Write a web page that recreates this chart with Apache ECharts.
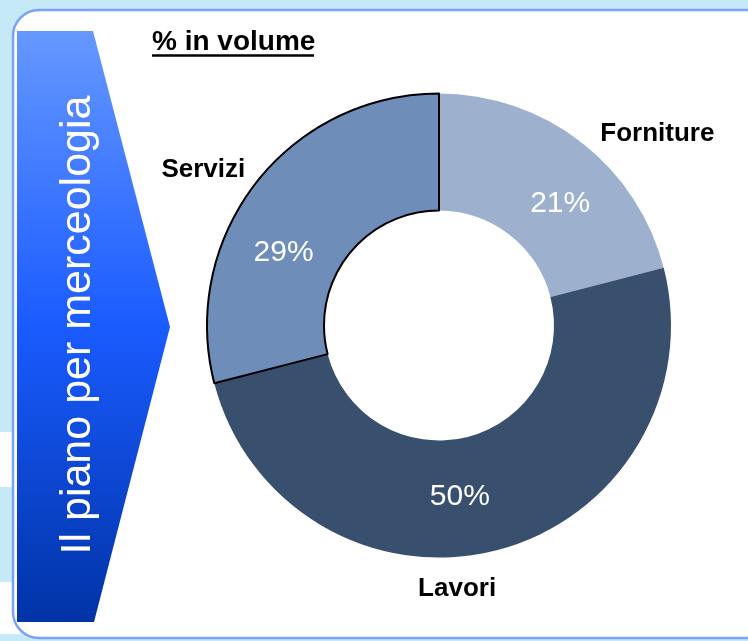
<!DOCTYPE html>
<html>
<head>
<meta charset="utf-8">
<title>Il piano per merceologia</title>
<script src="https://cdn.jsdelivr.net/npm/echarts@6/dist/echarts.min.js"></script>
<style>
  html, body { margin: 0; padding: 0; background: #c6e9f7; }
  #chart { width: 748px; height: 641px; }
</style>
</head>
<body>
<div id="chart"></div>
<script>
// categories and shares (% in volume), clockwise from 12 o'clock
const categories = ['Forniture', 'Lavori', 'Servizi'];
const shares = [21, 50, 29];
const sliceColors = ['#9db1cf', '#384f6e', '#6e8db9'];

const chartTitle = '% in volume';
const sideTitle = 'Il piano per merceologia';

const chart = echarts.init(document.getElementById('chart'));

// small nudges so labels sit where the original slide put them
const pctNudge = [[13, 18], [-23, 0], [-16, 35]];
const nameNudge = [[48, 28], [-51, -6], [-16, 15]];

const FONT = '"Liberation Sans", Arial, sans-serif';

const option = {
  backgroundColor: '#c6e9f7',
  animation: false,
  graphic: [
    // white strips left of the panel
    { type: 'rect', z: -20, shape: { x: 0, y: 432, width: 20, height: 55 }, style: { fill: '#ffffff' } },
    { type: 'rect', z: -20, shape: { x: 0, y: 582, width: 20, height: 52 }, style: { fill: '#ffffff' } },
    // panel
    {
      type: 'rect', z: -10,
      shape: { x: 13, y: 10, width: 770, height: 628, r: 26 },
      style: { fill: '#ffffff', stroke: '#78a3f6', lineWidth: 2.5 }
    },
    // chevron on the left
    {
      type: 'polygon', z: -5,
      shape: { points: [[17, 31], [93, 31], [170, 327], [94, 622], [17, 622]] },
      style: {
        fill: new echarts.graphic.LinearGradient(0, 0, 0, 1, [
          { offset: 0, color: '#6698ff' },
          { offset: 0.5, color: '#1a5bff' },
          { offset: 1, color: '#0033a6' }
        ])
      }
    },
    {
      type: 'text', z: 5,
      x: 78, y: 325, rotation: Math.PI / 2,
      style: {
        text: sideTitle,
        fill: '#ffffff',
        font: '43px ' + FONT,
        align: 'center',
        verticalAlign: 'middle'
      }
    },
    // title with underline
    {
      type: 'text', z: 5,
      x: 152, y: 42,
      style: {
        text: chartTitle,
        fill: '#000000',
        font: 'bold 28px ' + FONT,
        align: 'left',
        verticalAlign: 'middle'
      }
    },
    {
      type: 'line', z: 5,
      shape: { x1: 152, y1: 55.5, x2: 314, y2: 55.5 },
      style: { stroke: '#000000', lineWidth: 2.5 }
    }
  ],
  series: [
    {
      type: 'pie',
      center: [439, 325.5],
      radius: [115, 232],
      startAngle: 90,
      clockwise: true,
      avoidLabelOverlap: false,
      silent: true,
      label: {
        show: true,
        position: 'inside',
        formatter: '{c}%',
        color: '#ffffff',
        fontSize: 30,
        fontFamily: FONT
      },
      labelLine: { show: false },
      labelLayout: function (p) {
        const n = pctNudge[p.dataIndex];
        return { dx: n[0], dy: n[1] };
      },
      data: categories.map(function (name, i) {
        return {
          name: name,
          value: shares[i],
          itemStyle: name === 'Servizi'
            ? { color: sliceColors[i], borderColor: '#000000', borderWidth: 2 }
            : { color: sliceColors[i], borderWidth: 0 }
        };
      })
    },
    {
      // invisible ring carrying the category names
      type: 'pie',
      center: [439, 325.5],
      radius: [270, 280],
      startAngle: 90,
      clockwise: true,
      avoidLabelOverlap: false,
      silent: true,
      itemStyle: { color: 'rgba(0,0,0,0)', borderWidth: 0 },
      label: {
        show: true,
        position: 'inside',
        formatter: '{b}',
        color: '#000000',
        fontSize: 26,
        fontWeight: 'bold',
        fontFamily: FONT
      },
      labelLine: { show: false },
      labelLayout: function (p) {
        const n = nameNudge[p.dataIndex];
        return { dx: n[0], dy: n[1] };
      },
      data: categories.map(function (name, i) {
        return { name: name, value: shares[i] };
      })
    }
  ]
};

chart.setOption(option);
</script>
</body>
</html>
